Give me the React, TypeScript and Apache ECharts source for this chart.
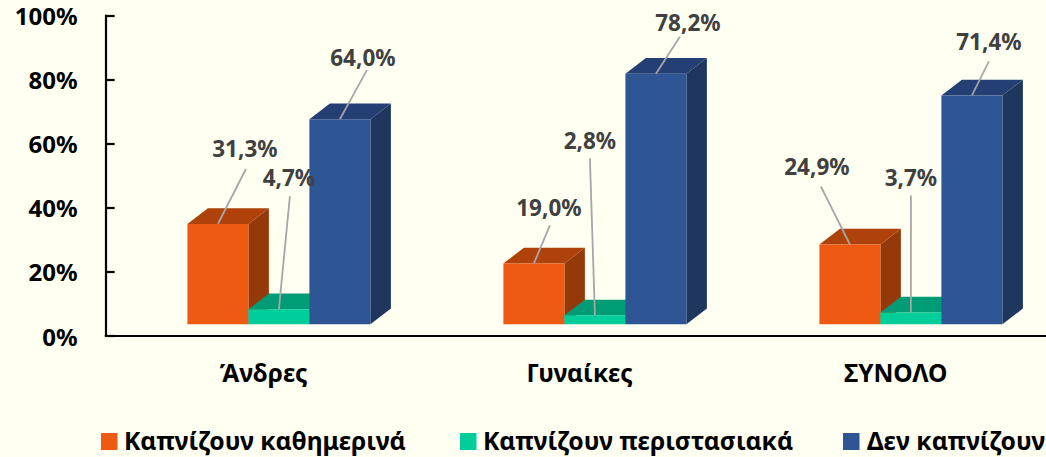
import React, { useEffect, useRef } from "react";
import * as echarts from "echarts";

const categories = ["Άνδρες", "Γυναίκες", "ΣΥΝΟΛΟ"];
const daily = [31.3, 19.0, 24.9];
const occasional = [4.7, 2.8, 3.7];
const never = [64.0, 78.2, 71.4];
const seriesNames = ["Καπνίζουν καθημερινά", "Καπνίζουν περιστασιακά", "Δεν καπνίζουν"];

const FONT = "'Noto Sans', sans-serif";
const BG = "#FFFFF2";
const FRONT = ["#EE5A11", "#00CE9A", "#2E5594"];
const TOP = ["#AE420A", "#009C75", "#233F73"];
const SIDE = ["#96390A", "#008561", "#1F365F"];
const BAR_W = 61;
const DEPTH_X = 20.5;
const DEPTH_Y = 15.7;
const FLOOR = 11.7;
const CENTER_SHIFT = 15.2;

// label centre and leader end, offset from the bar's top-centre: series, then category
const labelOffsets = [
  [[27, -75], [15, -56], [-33, -78]],
  [[10, -132], [-5, -175], [0, -135]],
  [[23, -62], [32, -51], [17, -54]],
];
const lineEnds = [
  [[28, -55], [16, -38], [-29, -58]],
  [[11, -113], [-5, -157], [0, -117]],
  [[27, -49], [24, -37], [17, -34]],
];
const legendX = [101, 460, 843];
const legendTextX = [124, 483, 867];

const barLeft = (cx: number, s: number) => cx + CENTER_SHIFT - BAR_W * 1.5 + s * BAR_W;

const makeSeries = (values: number[], s: number) => ({
  type: "custom",
  name: seriesNames[s],
  data: values.map((v, i) => [i, v]),
  clip: false,
  z: 3 + s,
  encode: { x: 0, y: 1 },
  renderItem: (params: any, api: any) => {
    const i = api.value(0);
    const v = api.value(1);
    const c = api.coord([i, v]);
    const base = api.coord([i, 0]);
    const x0 = barLeft(c[0], s);
    const x1 = x0 + BAR_W;
    const yt = c[1] - FLOOR;
    const yb = base[1] - FLOOR;
    return {
      type: "group",
      children: [
        {
          type: "polygon",
          shape: { points: [[x1, yt], [x1 + DEPTH_X, yt - DEPTH_Y], [x1 + DEPTH_X, yb - DEPTH_Y], [x1, yb]] },
          style: { fill: SIDE[s] },
        },
        {
          type: "polygon",
          shape: { points: [[x0, yt], [x0 + DEPTH_X, yt - DEPTH_Y], [x1 + DEPTH_X, yt - DEPTH_Y], [x1, yt]] },
          style: { fill: TOP[s] },
        },
        { type: "rect", shape: { x: x0, y: yt, width: BAR_W, height: yb - yt }, style: { fill: FRONT[s] } },
      ],
    };
  },
});

const makeLabels = (values: number[], s: number) => ({
  type: "custom",
  data: values.map((v, i) => [i, v]),
  clip: false,
  silent: true,
  z: 10,
  encode: { x: 0, y: 1 },
  renderItem: (params: any, api: any) => {
    const i = api.value(0);
    const v = api.value(1);
    const c = api.coord([i, v]);
    const yt = c[1] - FLOOR;
    const cx = barLeft(c[0], s) + BAR_W / 2;
    const lo = labelOffsets[s][i];
    const le = lineEnds[s][i];
    return {
      type: "group",
      children: [
        {
          type: "line",
          shape: { x1: cx, y1: yt, x2: cx + le[0], y2: yt + le[1] },
          style: { stroke: "#A6A6A6", lineWidth: 1.8 },
        },
        {
          type: "text",
          style: {
            x: cx + lo[0],
            y: yt + lo[1],
            text: v.toFixed(1).replace(".", ",") + "%",
            fill: "#404040",
            font: `bold 22.5px ${FONT}`,
            align: "center",
            verticalAlign: "middle",
          },
        },
      ],
    };
  },
});

export default function App() {
  const ref = useRef<HTMLDivElement>(null);
  useEffect(() => {
    document.body.style.margin = "0";
    document.body.style.background = BG;
    const chart = echarts.init(ref.current!, null, { renderer: "svg" });
    const all = [daily, occasional, never];
    chart.setOption({
      animation: false,
      backgroundColor: BG,
      grid: { left: 105.7, top: 15.5, width: 948, height: 320.5 },
      xAxis: {
        type: "category",
        data: categories,
        axisLine: { lineStyle: { color: "#000", width: 2.2 } },
        axisTick: { show: false },
        axisLabel: { color: "#000", fontFamily: FONT, fontWeight: "bold", fontSize: 24.5, margin: 24 },
      },
      yAxis: {
        type: "value",
        min: 0,
        max: 100,
        interval: 20,
        axisLine: { show: true, lineStyle: { color: "#000", width: 2.2 } },
        axisTick: { show: true, inside: true, length: 9, lineStyle: { color: "#000", width: 2.2 } },
        splitLine: { show: false },
        axisLabel: {
          color: "#000",
          fontFamily: FONT,
          fontWeight: "bold",
          fontSize: 24,
          margin: 28,
          formatter: "{value}%",
        },
      },
      series: [...all.map(makeSeries), ...all.map(makeLabels)],
      graphic: seriesNames.flatMap((n, k) => [
        { type: "rect", x: legendX[k], y: 433, shape: { width: 16.5, height: 17 }, style: { fill: FRONT[k] } },
        {
          type: "text",
          x: legendTextX[k],
          y: 440,
          style: { text: n, fill: "#000", font: `bold 24.7px ${FONT}`, verticalAlign: "middle" },
        },
      ]),
    });
    return () => chart.dispose();
  }, []);
  return (
    <div style={{ width: 1046, height: 457, overflow: "hidden" }}>
      <div ref={ref} style={{ width: 1054, height: 457 }} />
    </div>
  );
}
